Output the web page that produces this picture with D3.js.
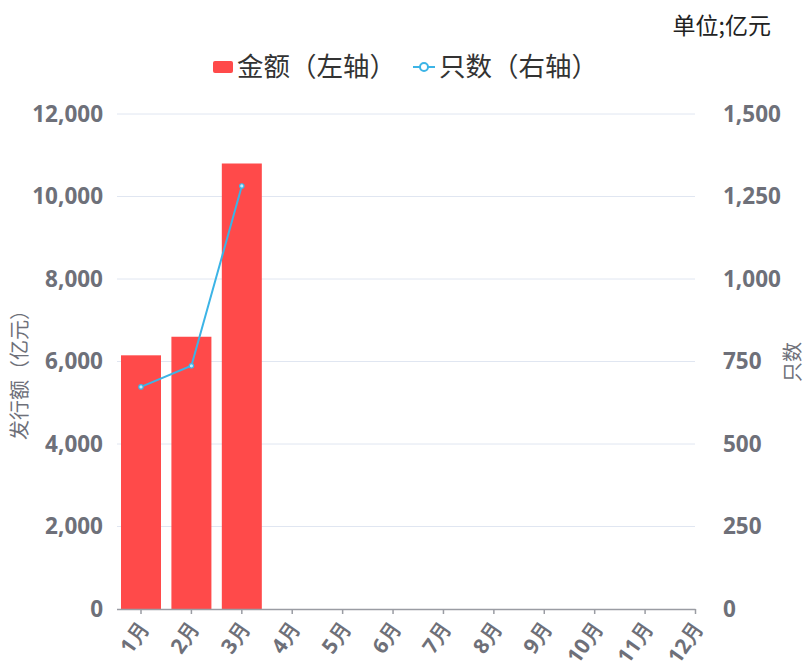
<!DOCTYPE html>
<html><head><meta charset="utf-8">
<script src="https://cdn.jsdelivr.net/npm/d3@7"></script>
<style>body{margin:0;background:#fff}svg{display:block}</style>
</head><body>
<script>
const months = ["1月","2月","3月","4月","5月","6月","7月","8月","9月","10月","11月","12月"];
const amounts = [6150, 6600, 10800];
const counts = [673, 737, 1282];
const leftTicks = [0,2000,4000,6000,8000,10000,12000];
const rightTicks = [0,250,500,750,1000,1250,1500];

const W=806,H=663;
const m={l:117,r:695,t:114,b:609};
const svg=d3.select("body").append("svg").attr("width",W).attr("height",H);
const x=d3.scalePoint().domain(months).range([141,695.5]);
const barW=40;
const yL=d3.scaleLinear().domain([0,12000]).range([m.b,m.t]);
const yR=d3.scaleLinear().domain([0,1500]).range([m.b,m.t]);
const fmt=d3.format(",");
const tc="#6e7079";
const font="'Open Sans','Noto Sans',sans-serif";

// grid
svg.append("g").selectAll("line").data(leftTicks.slice(1)).join("line")
 .attr("x1",m.l).attr("x2",m.r).attr("y1",d=>yL(d)).attr("y2",d=>yL(d))
 .attr("stroke","#e0e6f1").attr("stroke-width",1);

// left axis labels
svg.append("g").selectAll("text").data(leftTicks).join("text")
 .attr("x",103).attr("y",d=>yL(d)).attr("dy","0.35em").attr("text-anchor","end")
 .attr("font-family",font).attr("font-weight","bold").attr("font-size",22.5).attr("fill",tc)
 .text(d=>fmt(d));
// right axis labels
svg.append("g").selectAll("text").data(rightTicks).join("text")
 .attr("x",723).attr("y",d=>yR(d)).attr("dy","0.35em").attr("text-anchor","start")
 .attr("font-family",font).attr("font-weight","bold").attr("font-size",22.5).attr("fill",tc)
 .text(d=>fmt(d));

// bars
svg.append("g").selectAll("rect").data(amounts).join("rect")
 .attr("x",(d,i)=>x(months[i])-barW/2).attr("width",barW)
 .attr("y",d=>yL(d)).attr("height",d=>yL(0)-yL(d)).attr("fill","#ff4a4a");

// x axis
const ax=svg.append("g");
ax.append("line").attr("x1",m.l).attr("x2",695.5).attr("y1",m.b+0.5).attr("y2",m.b+0.5)
 .attr("stroke","#9a9ca3").attr("stroke-width",1.5);
ax.selectAll("line.t").data(months).join("line").attr("class","t")
 .attr("x1",d=>x(d)).attr("x2",d=>x(d)).attr("y1",m.b).attr("y2",m.b+5)
 .attr("stroke","#9a9ca3").attr("stroke-width",1.5);
svg.append("g").selectAll("text").data(months).join("text")
 .attr("transform",d=>`translate(${x(d)+3},${m.b+15}) rotate(-55)`)
 .attr("text-anchor","end").attr("dy","0.35em")
 .attr("font-family",font).attr("font-weight","bold").attr("font-size",21).attr("fill",tc)
 .text(d=>d);

// line
const cx=i=>x(months[i]);
svg.append("path").datum(counts)
 .attr("d",d3.line().x((d,i)=>cx(i)).y(d=>yR(d)))
 .attr("fill","none").attr("stroke","#3cb4e6").attr("stroke-width",2);
svg.append("g").selectAll("circle").data(counts).join("circle")
 .attr("cx",(d,i)=>cx(i)).attr("cy",d=>yR(d)).attr("r",2.2)
 .attr("fill","#bfe9fb").attr("stroke","#3cb4e6").attr("stroke-width",1.2);

// axis titles
const cjk="'Noto Sans CJK SC',sans-serif";
svg.append("text").attr("transform","translate(20,370) rotate(-90)").attr("text-anchor","middle")
 .attr("dy","0.35em").attr("font-family",cjk).attr("font-size",20).attr("fill",tc).text("发行额（亿元）");
svg.append("text").attr("transform","translate(793,362) rotate(-90)").attr("text-anchor","middle")
 .attr("dy","0.35em").attr("font-family",cjk).attr("font-size",20).attr("fill",tc).text("只数");

// unit
svg.append("text").attr("x",771).attr("y",34).attr("text-anchor","end")
 .attr("font-family",cjk).attr("font-size",23).attr("fill","#222").text("单位;亿元");

// legend
const lg=svg.append("g");
lg.append("rect").attr("x",213).attr("y",61).attr("width",20).attr("height",12).attr("rx",2).attr("fill","#ff4a4a");
lg.append("text").attr("x",237).attr("y",67).attr("dy","0.35em").attr("font-family",cjk).attr("font-size",26.5)
 .attr("fill","#333").text("金额（左轴）");
lg.append("line").attr("x1",413).attr("x2",435).attr("y1",67).attr("y2",67).attr("stroke","#3cb4e6").attr("stroke-width",2);
lg.append("circle").attr("cx",424).attr("cy",67).attr("r",4).attr("fill","#fff").attr("stroke","#3cb4e6").attr("stroke-width",2);
lg.append("text").attr("x",439).attr("y",67).attr("dy","0.35em").attr("font-family",cjk).attr("font-size",26.5)
 .attr("fill","#333").text("只数（右轴）");
</script>
</body></html>
